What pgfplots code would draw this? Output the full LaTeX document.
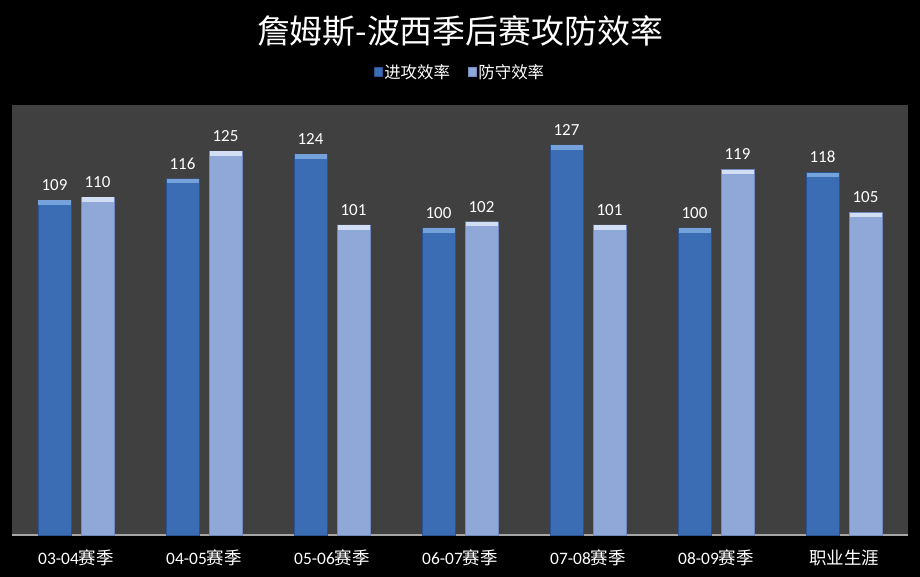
\documentclass[border=0pt]{standalone}
\usepackage{fontspec}
\setmainfont{Carlito}
\newfontfamily\cjk{Noto Sans CJK SC}
\usepackage{pgfplots}
\pgfplotsset{compat=1.18}
\definecolor{plotbg}{HTML}{404040}
\definecolor{offfill}{HTML}{3A6DB4}
\definecolor{offedge}{HTML}{2B5290}
\definecolor{offtop}{HTML}{76A2DC}
\definecolor{deffill}{HTML}{8FA8D8}
\definecolor{defedge}{HTML}{7189BC}
\definecolor{deftop}{HTML}{D2DEF4}
\definecolor{axisline}{HTML}{A6A6A6}
% light bevel strip on top of each bar (bars sit 21.5bp left/right of the tick)
\pgfdeclareplotmark{capL}{\pgfsetlinewidth{4.5bp}%
  \pgfpathmoveto{\pgfpoint{-37.5bp}{-2.5bp}}\pgfpathlineto{\pgfpoint{-5.5bp}{-2.5bp}}\pgfusepathqstroke}
\pgfdeclareplotmark{capR}{\pgfsetlinewidth{4.5bp}%
  \pgfpathmoveto{\pgfpoint{5.5bp}{-2.5bp}}\pgfpathlineto{\pgfpoint{37.5bp}{-2.5bp}}\pgfusepathqstroke}
\begin{document}
\begin{tikzpicture}
\fill[black] (0bp,0bp) rectangle (920bp,577bp);
\node[text=white, font=\cjk\fontsize{33}{33}\selectfont] at (460bp,546bp) {詹姆斯-波西季后赛攻防效率};
\begin{axis}[
    at={(12bp,42bp)}, anchor=south west,
    width=896bp, height=430bp, scale only axis,
    axis background/.style={fill=plotbg},
    ymin=0, ymax=140,
    xmin=-0.5, xmax=6.5,
    ybar=10bp, bar width=33bp,
    axis y line=none,
    axis x line*=bottom,
    x axis line style={draw=axisline, line width=1.2bp, -},
    xtick=data,
    xticklabels={{03-04{\cjk 赛季}},{04-05{\cjk 赛季}},{05-06{\cjk 赛季}},{06-07{\cjk 赛季}},{07-08{\cjk 赛季}},{08-09{\cjk 赛季}},{\cjk 职业生涯}},
    major tick length=0pt,
    xticklabel style={text=white, font=\fontsize{17.5}{17.5}\selectfont, yshift=-11bp},
    nodes near coords,
    nodes near coords style={text=white, font=\fontsize{17}{17}\selectfont, yshift=4bp},
    /pgf/number format/assume math mode=true,
    clip=false,
    legend style={at={(0.5,1.077)}, anchor=center, draw=none, fill=none,
        text=white, font=\cjk\fontsize{16.5}{16.5}\selectfont,
        /tikz/every even column/.append style={column sep=16bp}},
    legend columns=2,
    legend image code/.code={\fill[#1] (0bp,-4bp) rectangle (8bp,5bp);},
]
\addplot[fill=offfill, draw=offedge, mark=capL, mark options={draw=offtop}]
    coordinates {(0,109) (1,116) (2,124) (3,100) (4,127) (5,100) (6,118)};
\addlegendentry{进攻效率}
\addplot[fill=deffill, draw=defedge, mark=capR, mark options={draw=deftop}]
    coordinates {(0,110) (1,125) (2,101) (3,102) (4,101) (5,119) (6,105)};
\addlegendentry{防守效率}
\end{axis}
\end{tikzpicture}
\end{document}
